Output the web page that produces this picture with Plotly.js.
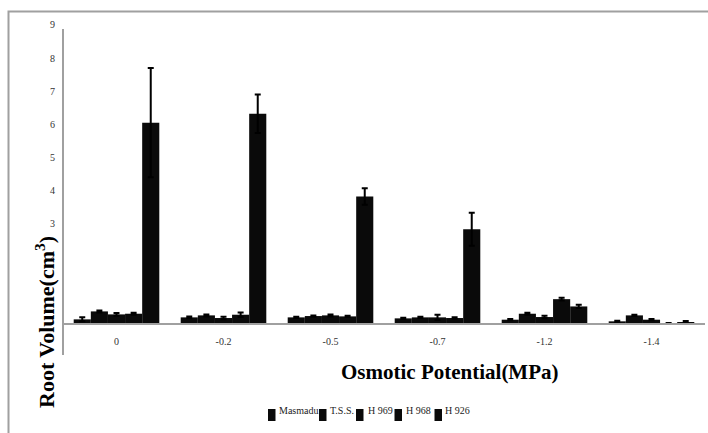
<!DOCTYPE html>
<html>
<head>
<meta charset="utf-8">
<script src="https://cdn.plot.ly/plotly-3.0.1.min.js"></script>
<style>html,body{margin:0;padding:0;background:#fff;}#chart{width:708px;height:433px;}</style>
</head>
<body>
<div id="chart"></div>
<script>
// Data
const categories = ["0", "-0.2", "-0.5", "-0.7", "-1.2", "-1.4"];
const seriesNames = ["Masmadu", "T.S.S.", "H 969", "H 968", "H 926"];
const masmadu = [0.11, 0.17, 0.17, 0.14, 0.10, 0.05];
const tss     = [0.35, 0.23, 0.21, 0.17, 0.28, 0.23];
const h969    = [0.26, 0.15, 0.23, 0.17, 0.18, 0.10];
const h968    = [0.28, 0.25, 0.20, 0.15, 0.72, 0.00];
const h926    = [6.05, 6.32, 3.82, 2.83, 0.50, 0.03];
const errMasmadu = [0.06, 0.03, 0.02, 0.02, 0.02, 0.02];
const errTss     = [0.03, 0.03, 0.02, 0.02, 0.03, 0.02];
const errH969    = [0.04, 0.04, 0.03, 0.08, 0.04, 0.02];
const errH968    = [0.03, 0.07, 0.02, 0.02, 0.04, 0.00];
const errH926    = [1.65, 0.58, 0.25, 0.50, 0.05, 0.03];
const yTicks = [2, 3, 4, 5, 6, 7, 8, 9];

const seriesValues = [masmadu, tss, h969, h968, h926];
const seriesErrors = [errMasmadu, errTss, errH969, errH968, errH926];

const FONT = "Liberation Serif, Times New Roman, serif";
const traces = seriesNames.map((name, i) => ({
  type: "bar",
  name: name,
  x: categories,
  y: seriesValues[i],
  marker: {color: "#0a0a0a", line: {width: 0}},
  error_y: {type: "data", array: seriesErrors[i], visible: true, color: "#000", thickness: 2, width: 3},
  showlegend: false
}));

// plot area geometry (pixels)
const L = 63, R = 705, T = 23, B = 323;
const px = x => (x - L) / (R - L);
const py = y => (B - y) / (B - T);

const shapes = [
  // outer frame
  {type: "rect", xref: "paper", yref: "paper", x0: px(8.5), x1: px(712), y0: py(440), y1: py(11.5),
   line: {color: "#a0a0a0", width: 2}, fillcolor: "rgba(0,0,0,0)", layer: "below"},
  // vertical axis line
  {type: "line", xref: "paper", yref: "paper", x0: 0, x1: 0, y0: py(355), y1: py(29),
   line: {color: "#a0a0a0", width: 2}}
];

// legend built with shapes + annotations (compact, as in reference)
const legendSym = [268, 319, 356, 394.5, 434.5];
const legendTxt = [276.5, 327.5, 365.5, 404, 443];
const annotations = [];
seriesNames.forEach((n, i) => {
  shapes.push({type: "rect", xref: "paper", yref: "paper",
    x0: px(legendSym[i]), x1: px(legendSym[i] + 7.5), y0: py(421), y1: py(409),
    fillcolor: "#0a0a0a", line: {width: 0}});
  annotations.push({xref: "paper", yref: "paper", x: px(legendTxt[i]), y: py(410.5),
    xanchor: "left", yanchor: "middle", text: n, showarrow: false,
    font: {family: FONT, size: 10, color: "#222"}});
});
annotations.push({xref: "paper", yref: "paper", x: px(45), y: py(322), textangle: -90,
  xanchor: "center", yanchor: "middle", showarrow: false,
  text: "<b>Root Volume(cm<sup>3</sup>)</b>", font: {family: FONT, size: 22, color: "#000"}});
annotations.push({xref: "paper", yref: "paper", x: px(450), y: py(372),
  xanchor: "center", yanchor: "middle", showarrow: false,
  text: "<b>Osmotic Potential(MPa)</b>", font: {family: FONT, size: 21, color: "#000"}});

const layout = {
  width: 708, height: 433,
  margin: {l: L, r: 708 - R, t: T, b: 433 - B},
  paper_bgcolor: "#fff", plot_bgcolor: "rgba(0,0,0,0)",
  font: {family: FONT, size: 10, color: "#333"},
  barmode: "group", bargap: 0.2, bargroupgap: 0,
  showlegend: false,
  xaxis: {type: "category", showline: true, linecolor: "#a0a0a0", linewidth: 2,
    ticks: "outside", ticklen: 8, tickcolor: "rgba(0,0,0,0)", showgrid: false, zeroline: false,
    tickfont: {family: FONT, size: 10, color: "#333"}},
  yaxis: {range: [0, 9.06], tickvals: yTicks, showline: false, showgrid: false, zeroline: false,
    ticks: "outside", ticklen: 5, tickcolor: "rgba(0,0,0,0)",
    tickfont: {family: FONT, size: 10, color: "#333"}},
  shapes: shapes,
  annotations: annotations
};

Plotly.newPlot("chart", traces, layout, {displayModeBar: false, staticPlot: true});
</script>
</body>
</html>
